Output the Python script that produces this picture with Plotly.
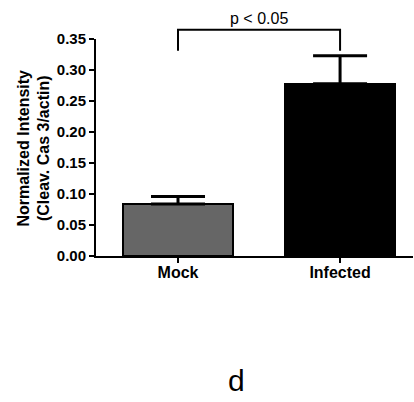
import plotly.graph_objects as go

categories = ["Mock", "Infected"]
means = [0.084, 0.278]
errors_up = [0.012, 0.045]
bar_colors = ["#666666", "#000000"]
y_ticks = [0.00, 0.05, 0.10, 0.15, 0.20, 0.25, 0.30, 0.35]
sig_label = "p < 0.05"
panel_label = "d"

FONT = "Liberation Sans, Arial, sans-serif"
xpos = list(range(len(categories)))
XR = [-0.506, 1.45]
YR = [0, 0.35]


def px(xv):
    return (xv - XR[0]) / (XR[1] - XR[0])


def py(yv):
    return (yv - YR[0]) / (YR[1] - YR[0])


fig = go.Figure()
fig.add_trace(go.Bar(
    x=xpos, y=means, width=0.675,
    marker=dict(color=bar_colors, line=dict(color="black", width=2)),
    error_y=dict(type="data", array=errors_up, arrayminus=[0, 0], symmetric=False,
                 color="black", thickness=3, width=27),
    showlegend=False,
))
# significance bracket (paper coords derived from axis ranges)
br_low, br_top = 0.331, 0.365
fig.add_shape(type="path", xref="paper", yref="paper",
              path=(f"M {px(xpos[0])},{py(br_low)} L {px(xpos[0])},{py(br_top)} "
                    f"L {px(xpos[1])},{py(br_top)} L {px(xpos[1])},{py(br_low)}"),
              line=dict(color="black", width=2))
fig.add_annotation(x=px(0.5), y=py(br_top), xref="paper", yref="paper", text=sig_label,
                   showarrow=False, yanchor="bottom", yshift=1,
                   font=dict(family=FONT, size=16, color="black"))
fig.add_annotation(x=(236 - 96) / 317, y=-(381 - 256) / 217.5, xref="paper", yref="paper",
                   text=panel_label, showarrow=False, xanchor="center", yanchor="middle",
                   font=dict(family=FONT, size=30, color="black"))
fig.add_annotation(x=-(96 - 33) / 317, y=0.5, xref="paper", yref="paper",
                   text="<b>Normalized Intensity<br>(Cleav. Cas 3/actin)</b>",
                   textangle=-90, showarrow=False, xanchor="center", yanchor="middle",
                   font=dict(family=FONT, size=16, color="black"))

fig.update_layout(
    width=414, height=402,
    margin=dict(l=96, r=1, t=38.5, b=146, pad=0),
    plot_bgcolor="white", paper_bgcolor="white",
    font=dict(family=FONT, color="black"),
    bargap=0,
)
fig.update_xaxes(
    range=XR, tickvals=xpos, ticktext=[f"<b>{c}</b>" for c in categories],
    showline=True, linecolor="black", linewidth=2, ticks="outside", ticklen=5,
    tickwidth=2, tickcolor="black", showgrid=False, zeroline=False,
    tickfont=dict(family=FONT, size=16, color="black"), ticklabelstandoff=-4,
)
fig.update_yaxes(
    range=YR, tickvals=y_ticks, ticktext=[f"<b>{v:.2f}</b>" for v in y_ticks],
    showline=True, linecolor="black", linewidth=2, ticks="outside", ticklen=5,
    tickwidth=2, tickcolor="black", showgrid=False, zeroline=False,
    tickfont=dict(family=FONT, size=15, color="black"),
)
fig.write_html("out.html", config={"displayModeBar": False},
               post_script="document.body.style.margin='0';document.body.style.overflow='hidden';")
